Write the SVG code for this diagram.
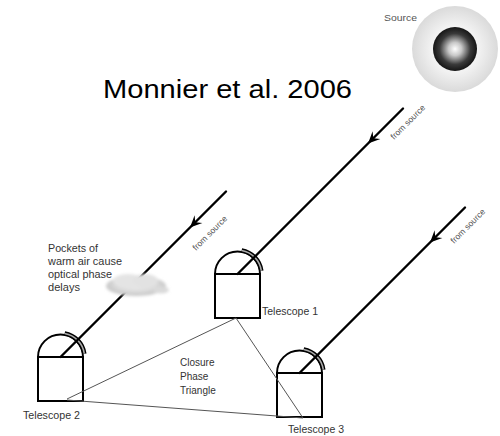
<svg xmlns="http://www.w3.org/2000/svg" xmlns:xlink="http://www.w3.org/1999/xlink" width="500" height="436" viewBox="0 0 500 436">
  <style>
    .lbl { font-family: "Liberation Sans", Arial, sans-serif; fill: #333; }
    .src { font-family: "Liberation Sans", Arial, sans-serif; font-size: 8.5px; fill: #555; }
    .title { font-family: "Liberation Sans", Arial, sans-serif; font-size: 25px; fill: #000; }
    .body { fill: none; stroke: #000; stroke-width: 2; }
    .slit { fill: none; stroke: #000; stroke-width: 4.5; }
    .slit-in { fill: none; stroke: #aaa; stroke-width: 1.5; }
    .beam { stroke: #000; stroke-width: 2.4; fill: none; stroke-linecap: round; }
    .base { stroke: #555; stroke-width: 1; fill: none; }
  </style>
  <defs>
    <radialGradient id="halo" cx="0.5" cy="0.5" r="0.5">
      <stop offset="0" stop-color="#f6f6f6"/>
      <stop offset="0.55" stop-color="#f2f2f2"/>
      <stop offset="1" stop-color="#dadada"/>
    </radialGradient>
    <radialGradient id="core" cx="0.5" cy="0.5" r="0.5">
      <stop offset="0" stop-color="#ffffff"/>
      <stop offset="0.3" stop-color="#c8c8c8"/>
      <stop offset="0.7" stop-color="#3a3a3a"/>
      <stop offset="1" stop-color="#151515"/>
    </radialGradient>
    <radialGradient id="puff" cx="0.5" cy="0.45" r="0.5">
      <stop offset="0" stop-color="#ececec"/>
      <stop offset="0.6" stop-color="#dedede"/>
      <stop offset="1" stop-color="#c8c8c8"/>
    </radialGradient>
    <filter id="soft" x="-30%" y="-50%" width="160%" height="200%">
      <feGaussianBlur stdDeviation="1.6"/>
    </filter>
    <!-- telescope: origin at the centre of the dome base -->
    <g id="scope">
      <rect class="body" x="-22.5" y="0" width="45" height="44"/>
      <path class="body" d="M-22.5,0 A22.5,22.5 0 0 1 22.5,0"/>
      <path class="slit" d="M4.2,-23.6 A24,24 0 0 1 23.8,-3.3"/>
      <path class="slit-in" d="M4.2,-23.6 A24,24 0 0 1 23.8,-3.3"/>
    </g>
    <!-- incoming-light arrowhead, tip at origin, pointing along +x -->
    <path id="arrow" d="M0,0 L-12,-5.5 L-7.5,0 L-12,5.5 Z" fill="#000"/>
  </defs>

  <rect width="500" height="436" fill="#fff"/>

  <!-- distant source -->
  <g id="source">
    <circle cx="455" cy="49" r="43" fill="url(#halo)"/>
    <circle cx="455" cy="49" r="22" fill="url(#core)"/>
    <text class="lbl" x="384" y="21" font-size="9.5" fill="#555" style="fill:#555" textLength="33" lengthAdjust="spacingAndGlyphs">Source</text>
  </g>

  <text class="title" x="103" y="98" textLength="249" lengthAdjust="spacingAndGlyphs">Monnier et al. 2006</text>

  <!-- telescopes -->
  <g id="telescope1" transform="translate(237.5,274)">
    <use xlink:href="#scope" href="#scope"/>
  </g>
  <g id="telescope2" transform="translate(60.5,357)">
    <use xlink:href="#scope" href="#scope"/>
  </g>
  <g id="telescope3" transform="translate(299.5,373)">
    <use xlink:href="#scope" href="#scope"/>
  </g>

  <!-- connectors: closure phase triangle and incoming beams -->
  <g id="connectors">
    <line class="base" x1="236" y1="318" x2="67" y2="399"/>
    <line class="base" x1="236" y1="318" x2="303" y2="418"/>
    <line class="base" x1="67" y1="400" x2="303" y2="418"/>

    <line class="beam" x1="60.5" y1="357" x2="226" y2="191.5"/>
    <line class="beam" x1="237.5" y1="274" x2="403" y2="108.5"/>
    <line class="beam" x1="299.5" y1="373" x2="465" y2="207.5"/>

    <use xlink:href="#arrow" href="#arrow" transform="translate(190,227.5) rotate(135)"/>
    <use xlink:href="#arrow" href="#arrow" transform="translate(368,143.5) rotate(135)"/>
    <use xlink:href="#arrow" href="#arrow" transform="translate(430,242.5) rotate(135)"/>
  </g>

  <!-- warm air pocket, drawn over the beam -->
  <g id="cloud" filter="url(#soft)">
    <ellipse cx="136" cy="286" rx="30" ry="10" fill="url(#puff)"/>
    <ellipse cx="128" cy="281" rx="15" ry="7" fill="#e4e4e4"/>
    <ellipse cx="145" cy="281" rx="13" ry="7" fill="#e2e2e2"/>
    <ellipse cx="161" cy="290" rx="8" ry="3.5" fill="#dadada"/>
  </g>

  <!-- labels -->
  <g id="labels">
    <text class="lbl" x="48" y="252" font-size="10.5" textLength="50" lengthAdjust="spacingAndGlyphs">Pockets of</text>
    <text class="lbl" x="48" y="265" font-size="10.5" textLength="74" lengthAdjust="spacingAndGlyphs">warm air cause</text>
    <text class="lbl" x="48" y="278" font-size="10.5" textLength="64" lengthAdjust="spacingAndGlyphs">optical phase</text>
    <text class="lbl" x="48" y="291" font-size="10.5" textLength="32" lengthAdjust="spacingAndGlyphs">delays</text>

    <text class="lbl" x="262" y="315" font-size="10" textLength="56" lengthAdjust="spacingAndGlyphs">Telescope 1</text>
    <text class="lbl" x="23" y="419" font-size="10" textLength="57" lengthAdjust="spacingAndGlyphs">Telescope 2</text>
    <text class="lbl" x="288" y="433" font-size="10" textLength="56" lengthAdjust="spacingAndGlyphs">Telescope 3</text>

    <text class="lbl" x="180" y="366" font-size="10">Closure</text>
    <text class="lbl" x="180" y="380" font-size="10">Phase</text>
    <text class="lbl" x="180" y="394" font-size="10">Triangle</text>

    <text class="src" transform="translate(196,251) rotate(-45)">from source</text>
    <text class="src" transform="translate(394,140) rotate(-45)">from source</text>
    <text class="src" transform="translate(454,244) rotate(-45)">from source</text>
  </g>
</svg>
